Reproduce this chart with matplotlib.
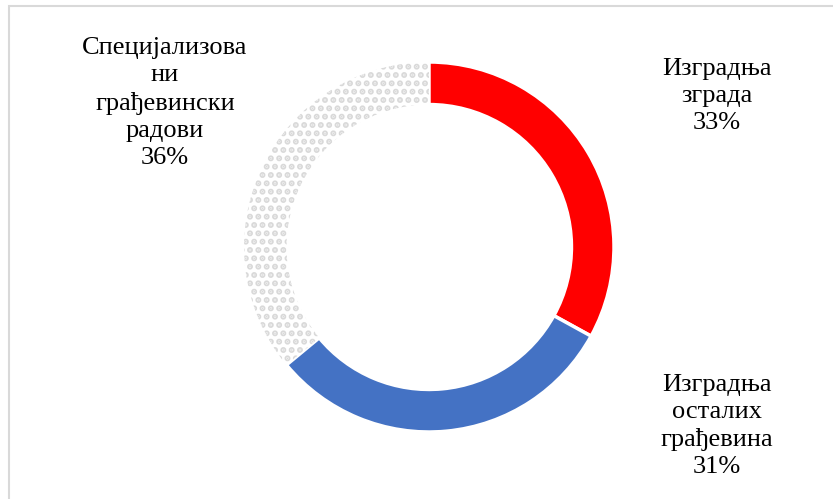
import matplotlib
matplotlib.use('Agg')
import matplotlib.pyplot as plt
from matplotlib.patches import Rectangle

# Data
categories = ['Изградња\nзграда', 'Изградња\nосталих\nграђевина', 'Специјализова\nни\nграђевински\nрадови']
shares = [33, 31, 36]
colors = ['#ff0000', '#4472c4', '#ffffff']

plt.rcParams['font.family'] = ['Liberation Serif', 'DejaVu Serif']
plt.rcParams['hatch.linewidth'] = 3.0

W, H = 833, 499
fig = plt.figure(figsize=(W / 100, H / 100), dpi=100)
ax = fig.add_axes([0, 0, 1, 1])

# frame of the embedded chart
ax.add_patch(Rectangle((9, -10), W + 20, H - 6 + 10, fill=False,
                       edgecolor='#d9d9d9', lw=1.5))

cx, cy, r = 429, H - 247, 185
wedges, _ = ax.pie(shares, colors=colors, startangle=90, counterclock=False,
                   center=(cx, cy), radius=r, frame=True,
                   wedgeprops=dict(width=r * 0.23, edgecolor='white', linewidth=2.5))
# patterned grey slice
wedges[2].set_hatch('..')
wedges[2].set_edgecolor('#d9d9d9')
wedges[2].set_linewidth(0)
ax.set_xlim(0, W)
ax.set_ylim(0, H)
ax.set_aspect('equal')
ax.axis('off')

label_pos = [(717, H - 96), (717, H - 426), (165, H - 103)]
for cat, val, (x, y) in zip(categories, shares, label_pos):
    ax.text(x, y, f'{cat}\n{val}%', ha='center', va='center',
            fontsize=19, linespacing=1.3, color='#000000')

fig.savefig('out.png', dpi=100)
